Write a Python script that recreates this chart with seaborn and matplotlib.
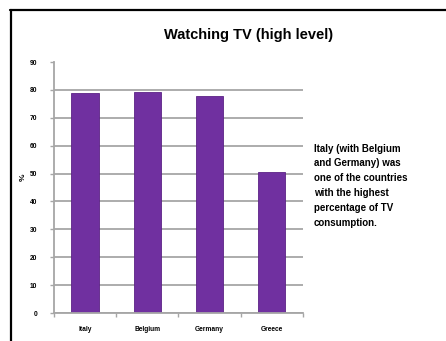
import matplotlib
matplotlib.use("Agg")
import matplotlib.pyplot as plt
from matplotlib.lines import Line2D
import seaborn as sns
import pandas as pd

countries = ["Italy", "Belgium", "Germany", "Greece"]
values = [78.9, 79.3, 78.0, 50.4]
yticks = [0, 10, 20, 30, 40, 50, 60, 70, 80, 90]
title = "Watching TV (high level)"
note = "Italy (with Belgium\nand Germany) was\none of the countries\nwith the highest\npercentage of TV\nconsumption."

sns.set_theme(style="white")
plt.rcParams['font.family'] = ['Liberation Sans', 'DejaVu Sans']
plt.rcParams['text.color'] = 'black'
plt.rcParams['axes.labelcolor'] = 'black'

df = pd.DataFrame({"country": countries, "value": values})

fig = plt.figure(figsize=(4.46, 3.41), dpi=100)
ax = fig.add_axes([0.121, 0.082, 0.558, 0.736])

ax.set_axisbelow(True)
ax.yaxis.grid(True, color="#A6A6A6", linewidth=1.3)
sns.barplot(data=df, x="country", y="value", color="#7030A0", width=0.44,
            saturation=1, edgecolor="#5B2385", linewidth=0.6, ax=ax)

ax.set_ylim(0, 90)
ax.set_xlim(-0.5, 3.5)
ax.set_yticks(yticks)
ax.set_yticklabels([str(t) for t in yticks], fontsize=4.8, fontweight="bold")
ax.set_xticks(range(len(countries)))
ax.set_xticklabels(countries, fontsize=4.8, fontweight="bold")
ax.set_xticks([-0.5, 0.5, 1.5, 2.5, 3.5], minor=True)
ax.tick_params(axis="x", which="major", length=0, pad=9, labelcolor="black")
ax.tick_params(axis="x", which="minor", length=3, width=1, color="#A6A6A6", direction="out", bottom=True)
ax.tick_params(axis="y", length=3, width=1, color="#A6A6A6", direction="out", left=True, pad=9, labelcolor="black")
gl = ax.yaxis.get_gridlines()
gl[-1].set_visible(False)
ax.set_xlabel("")
ax.set_ylabel("%", fontsize=6, fontweight="bold", rotation=90, color="black")
ax.yaxis.set_label_coords(-0.11, 0.54)

for s in ["top", "right"]:
    ax.spines[s].set_visible(False)
for s in ["left", "bottom"]:
    ax.spines[s].set_color("#A6A6A6")
    ax.spines[s].set_linewidth(1.3)

fig.text(0.557, 0.897, title, ha="center", va="center", fontsize=10.5, fontweight="bold", color="black")
fig.text(0.703, 0.456, note, ha="left", va="center", fontsize=7, fontweight="bold",
         linespacing=1.6, color="black")

fig.add_artist(Line2D([0.022, 1.0], [0.971, 0.971], transform=fig.transFigure, color="black", linewidth=1.6))
fig.add_artist(Line2D([0.025, 0.025], [0.0, 0.971], transform=fig.transFigure, color="black", linewidth=1.6))

fig.savefig("out.png", dpi=100)
